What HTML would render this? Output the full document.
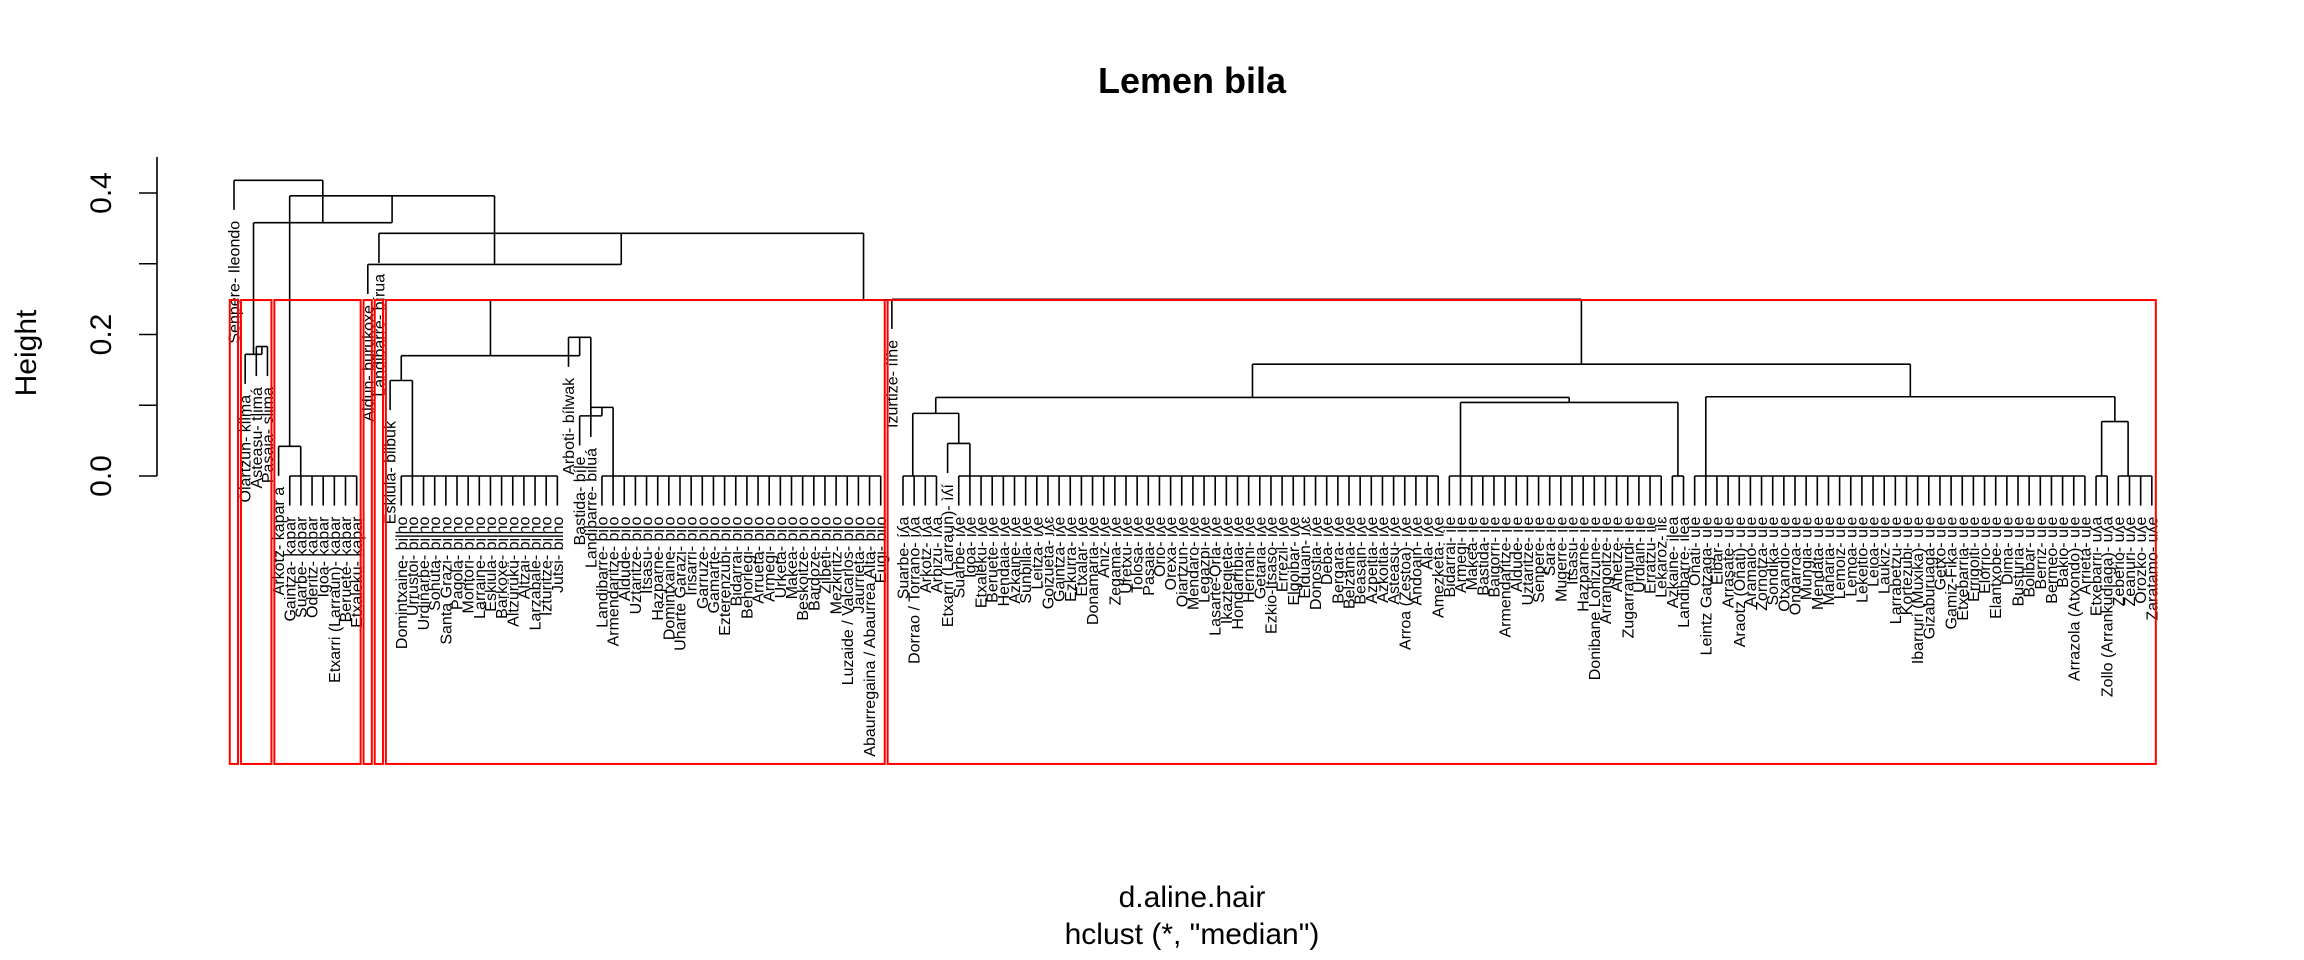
<!DOCTYPE html>
<html><head><meta charset="utf-8">
<style>
html,body{margin:0;padding:0;background:#fff;}
svg{display:block;font-family:"Liberation Sans","DejaVu Sans",sans-serif;}
</style></head>
<body>
<svg id="chart" width="2304" height="960" viewBox="0 0 2304 960" xmlns="http://www.w3.org/2000/svg">
  <text x="1192" y="93" font-size="36" font-weight="bold" text-anchor="middle">Lemen bila</text>
  <text transform="translate(36,353) rotate(-90)" font-size="30" text-anchor="middle">Height</text>
  <text x="1192" y="907" font-size="30" text-anchor="middle">d.aline.hair</text>
  <text x="1192" y="944" font-size="30" text-anchor="middle">hclust (*, "median")</text>
  <g id="axis"></g>
  <g id="tree"></g>
  <g id="labels"></g>
  <g id="rects"></g>
</svg>
<script>
// ---- data ----
const leafLabels = [
"Senpere- Ileondo","Oiartzun- kiima","Asteasu- tlimá","Pasaia- slima",
"Arkotz- kapar a","Gaintza- kapar","Suarbe- kapar","Oderitz- kapar","Igoa- kapar","Etxarri (Larraun)- kapar","Beruete- kapar","Etxaleku- kapar",
"Aldun- burukoxe","Landibarre- bírua","Eskiula- bilbuk",
"Domintxaine- bilho","Urrustoi- bilho","Urdiñarbe- bilho","Sohüta- bilho","Santa Grazi- bilho","Pagola- bilho","Montori- bilho","Larraine- bilho","Eskiula- bilho","Barkoxe- bilho","Altzürükü- bilho","Altzai- bilho","Larzabale- bilho","Izturitze- bilho","Jutsi- bilho",
"Arboti- bílwak","Bastida- bíle","Landibarre- biluá",
"Landibarre- bilo","Armendaritze- bilo","Aldude- bilo","Uztaritze- bilo","Itsasu- bilo","Hazparne- bilo","Domintxaine- bilo","Uharte Garazi- bilo","Irisarri- bilo","Garruze- bilo","Gamarte- bilo","Ezterenzubi- bilo","Bidarrai- bilo","Behorlegi- bilo","Arrueta- bilo","Armegi- bilo","Urketa- bilo","Makea- bilo","Beskoitze- bilo","Bardoze- bilo","Zilbeti- bilo","Mezkiritz- bilo","Luzaide / Valcarlos- bilo","Jaurrieta- bilo","Abaurregaina / Abaurrea Alta- bilo","Eugi- bilo",
"Izurtize- ííñe",
"Suarbe- íʎa","Dorrao / Torrano- íʎa","Arkotz- íʎa","Arbizu- íʎa","Etxarri (Larraun)- ìʎí",
"Suarbe- iʎe","Igoa- iʎe","Etxaleku- iʎe","Beruete- iʎe","Hendaia- iʎe","Azkaine- iʎe","Sunbilla- iʎe","Leitza- iʎe","Goizueta- iʎɛ","Gaintza- iʎe","Ezkurra- iʎe","Etxalar- iʎe","Donamaria- iʎe","Aniz- iʎe","Zegama- iʎe","Uretxu- iʎe","Tolosa- iʎe","Pasaia- iʎe","Orio- iʎe","Orexa- iʎe","Oiartzun- iʎe","Mendaro- iʎe","Legazpi- iʎe","Lasarte-Oria- iʎe","Ikaztegieta- iʎe","Hondarribia- iʎe","Hernani- iʎe","Getaria- iʎe","Ezkio-Itsaso- iʎe","Errezil- iʎe","Elgoibar- iʎe","Elduain- iʎɛ","Donostia- iʎe","Deba- iʎe","Bergara- iʎe","Belzama- iʎe","Beasain- iʎe","Azpeitia- iʎe","Azkoitia- iʎe","Asteasu- iʎe","Arroa (Zestoa)- iʎe","Andoain- iʎe","Ala- iʎe","Amezketa- iʎe",
"Bidarrai- ile","Armegi- ile","Makea- ile","Bastida- ile","Baigorri- ile","Armendaritze- ile","Aldude- ile","Uztaritze- ile","Senpere- ile","Sara- ile","Mugerre- ile","Itsasu- ile","Hazparne- ile","Donibane Lohizune- ile","Arrangoitze- ile","Ahetze- ile","Zugarramurdi- ile","Urdiain- ile","Erratzu- ile","Lekaroz- ilɛ",
"Azkaine- ilea","Landibarre- ilea",
"Oñati- ule","Leintz Gatzaga- ule","Eibar- ule","Arrasate- ule","Araotz (Oñati)- ule","Aramaio- ule","Zornotza- ule","Sondika- ule","Otxandio- ule","Ondarroa- ule","Mungia- ule","Mendata- ule","Mañaria- ule","Lemoiz- ule","Lemoa- ule","Lekeitio- ule","Leioa- ule","Laukiz- ule","Larrabetzu- ule","Kortezubi- ule","Ibarruri (Muxika)- ule","Gizaburuaga- ule","Getxo- ule","Gamiz-Fika- ule","Etxebarria- ule","Errigoiti- ule","Elorrio- ule","Elantxobe- ule","Dima- ule","Busturia- ule","Bolibar- ule","Berriz- ule","Bermeo- ule","Bakio- ule","Arrazola (Atxondo)- ule","Arrieta- ule",
"Etxebarri- uʎa","Zollo (Arrankudiaga)- uʎa","Zeberio- uʎe","Zeanuri- uʎe","Orozko- uʎe","Zaratamo- uʎe"
];
// flat groups (merged at height 0): [first leaf, last leaf]
const groupNames = ["Gk","Gb","Gbo","F","Gi","Gl","Ga","Gu","Hl","Hr"];
const groupRanges = [[5,11],[15,29],[33,58],[60,63],[65,108],[109,128],[129,130],[131,166],[167,168],[169,172]];
// merges: numbers = leaf index, strings = node name
const mergeNames   = ["K1","P","Q","Y","P1","P2","Z","X","G","D","E","B","H","C","A","R","W","V","U","S","T","root"];
const mergeLeft    = [4,2,1,14,32,31,30,"Y","64","F","Gl","D","Hl","Gu","B",59,"X",13,12,"K1","Q",0];
const mergeRight   = ["Gk",3,"P","Gb","Gbo","P1","P2","Z","Gi","G","Ga","E","Hr","H","C","A","R","W","V","U","S","T"];
const mergeHeights = [0.042,0.183,0.172,0.135,0.097,0.085,0.196,0.170,0.046,0.0885,0.104,0.111,0.077,0.112,0.158,0.2497,0.2488,0.343,0.299,0.396,0.358,0.418];
// cluster rectangles (cutree k=7): leaf ranges
const rectRanges = [[0,0],[1,3],[4,11],[12,12],[13,13],[14,58],[59,172]];
const rectTop = 0.2487, rectBottom = -0.407;
const yTicks = [0.0,0.1,0.2,0.3,0.4];
const yTickLabels = ["0.0","","0.2","","0.4"];

// ---- scales ----
const X0 = 234, STEP = 11.15, Y0 = 476, PXU = 707.5;
const xL = i => X0 + i*STEP;
const yH = h => Y0 - h*PXU;
const hang = 0.1*Math.max(...mergeHeights);
const NS = "http://www.w3.org/2000/svg";
function mk(tag, attrs, parent){const e=document.createElementNS(NS,tag);for(const k in attrs)e.setAttribute(k,attrs[k]);parent.appendChild(e);return e;}

// axis
const ax = document.getElementById('axis');
const axl = mk('line',{x1:157,x2:157,y1:yH(0.451),y2:yH(0),stroke:'#000','stroke-width':1.6},ax);


yTicks.forEach((t,i)=>{
  const tk = mk('line',{x1:139,x2:157,y1:yH(t),y2:yH(t),stroke:'#000','stroke-width':1.6},ax);
  
  
  if (yTickLabels[i]) {
    const tl = mk('text',{transform:`translate(111,${yH(t)}) rotate(-90)`,'font-size':30,'text-anchor':'middle'},ax);
    
    
    tl.textContent = yTickLabels[i];
  }
});

// tree geometry
const tree = document.getElementById('tree');
const nodes = {};
function line(x1,y1,x2,y2,name){
  const l = mk('line',{x1,y1,x2,y2,stroke:'#000','stroke-width':1.6},tree);
  
  
}
function leafStub(i, ph){ line(xL(i), yH(ph), xL(i), yH(ph-hang), 'leaf-branch'); }
groupRanges.forEach((r,gi)=>{
  let x = xL(r[1]);
  for(let i=r[1]-1;i>=r[0];i--){ x = (xL(i)+x)/2; }
  nodes[groupNames[gi]] = {x, h:0};
  line(xL(r[0]), yH(0), xL(r[1]), yH(0), 'group-bar');
  for(let i=r[0];i<=r[1];i++) leafStub(i,0);
});
function childInfo(c){
  if (typeof c === 'number' || /^\d+$/.test(c)) { return {leaf:+c, x:xL(+c)}; }
  return {node:c, x:nodes[c].x, h:nodes[c].h};
}
mergeNames.forEach((n,mi)=>{
  const h = mergeHeights[mi];
  const L = childInfo(mergeLeft[mi]), R = childInfo(mergeRight[mi]);
  [L,R].forEach(c=>{
    if (c.leaf!==undefined) leafStub(c.leaf,h);
    else line(c.x, yH(h), c.x, yH(c.h), 'merge-branch');
  });
  line(L.x, yH(h), R.x, yH(h), 'merge-bar');
  nodes[n] = {x:(L.x+R.x)/2, h};
});

const leafParentH = new Array(leafLabels.length).fill(0);
mergeNames.forEach((n,mi)=>{
  [mergeLeft[mi],mergeRight[mi]].forEach(c=>{ if (typeof c==='number'||/^\d+$/.test(c)) leafParentH[+c]=mergeHeights[mi]; });
});
const lg = document.getElementById('labels');
leafLabels.forEach((lab,i)=>{
  const y = yH(leafParentH[i]-hang) + 11;
  const t = mk('text',{transform:`translate(${xL(i)+5.5},${y}) rotate(-90)`,'font-size':16,'text-anchor':'end'},lg);
  
  
  t.textContent = lab;
});

const rg = document.getElementById('rects');
rectRanges.forEach(r=>{
  const x1 = xL(r[0]) - 0.38*STEP, x2 = xL(r[1]) + 0.36*STEP;
  const rc = mk('rect',{x:x1,y:yH(rectTop),width:x2-x1,height:yH(rectBottom)-yH(rectTop),fill:'none',stroke:'#ff0000','stroke-width':2},rg);
  
  
});
</script>
</body></html>
